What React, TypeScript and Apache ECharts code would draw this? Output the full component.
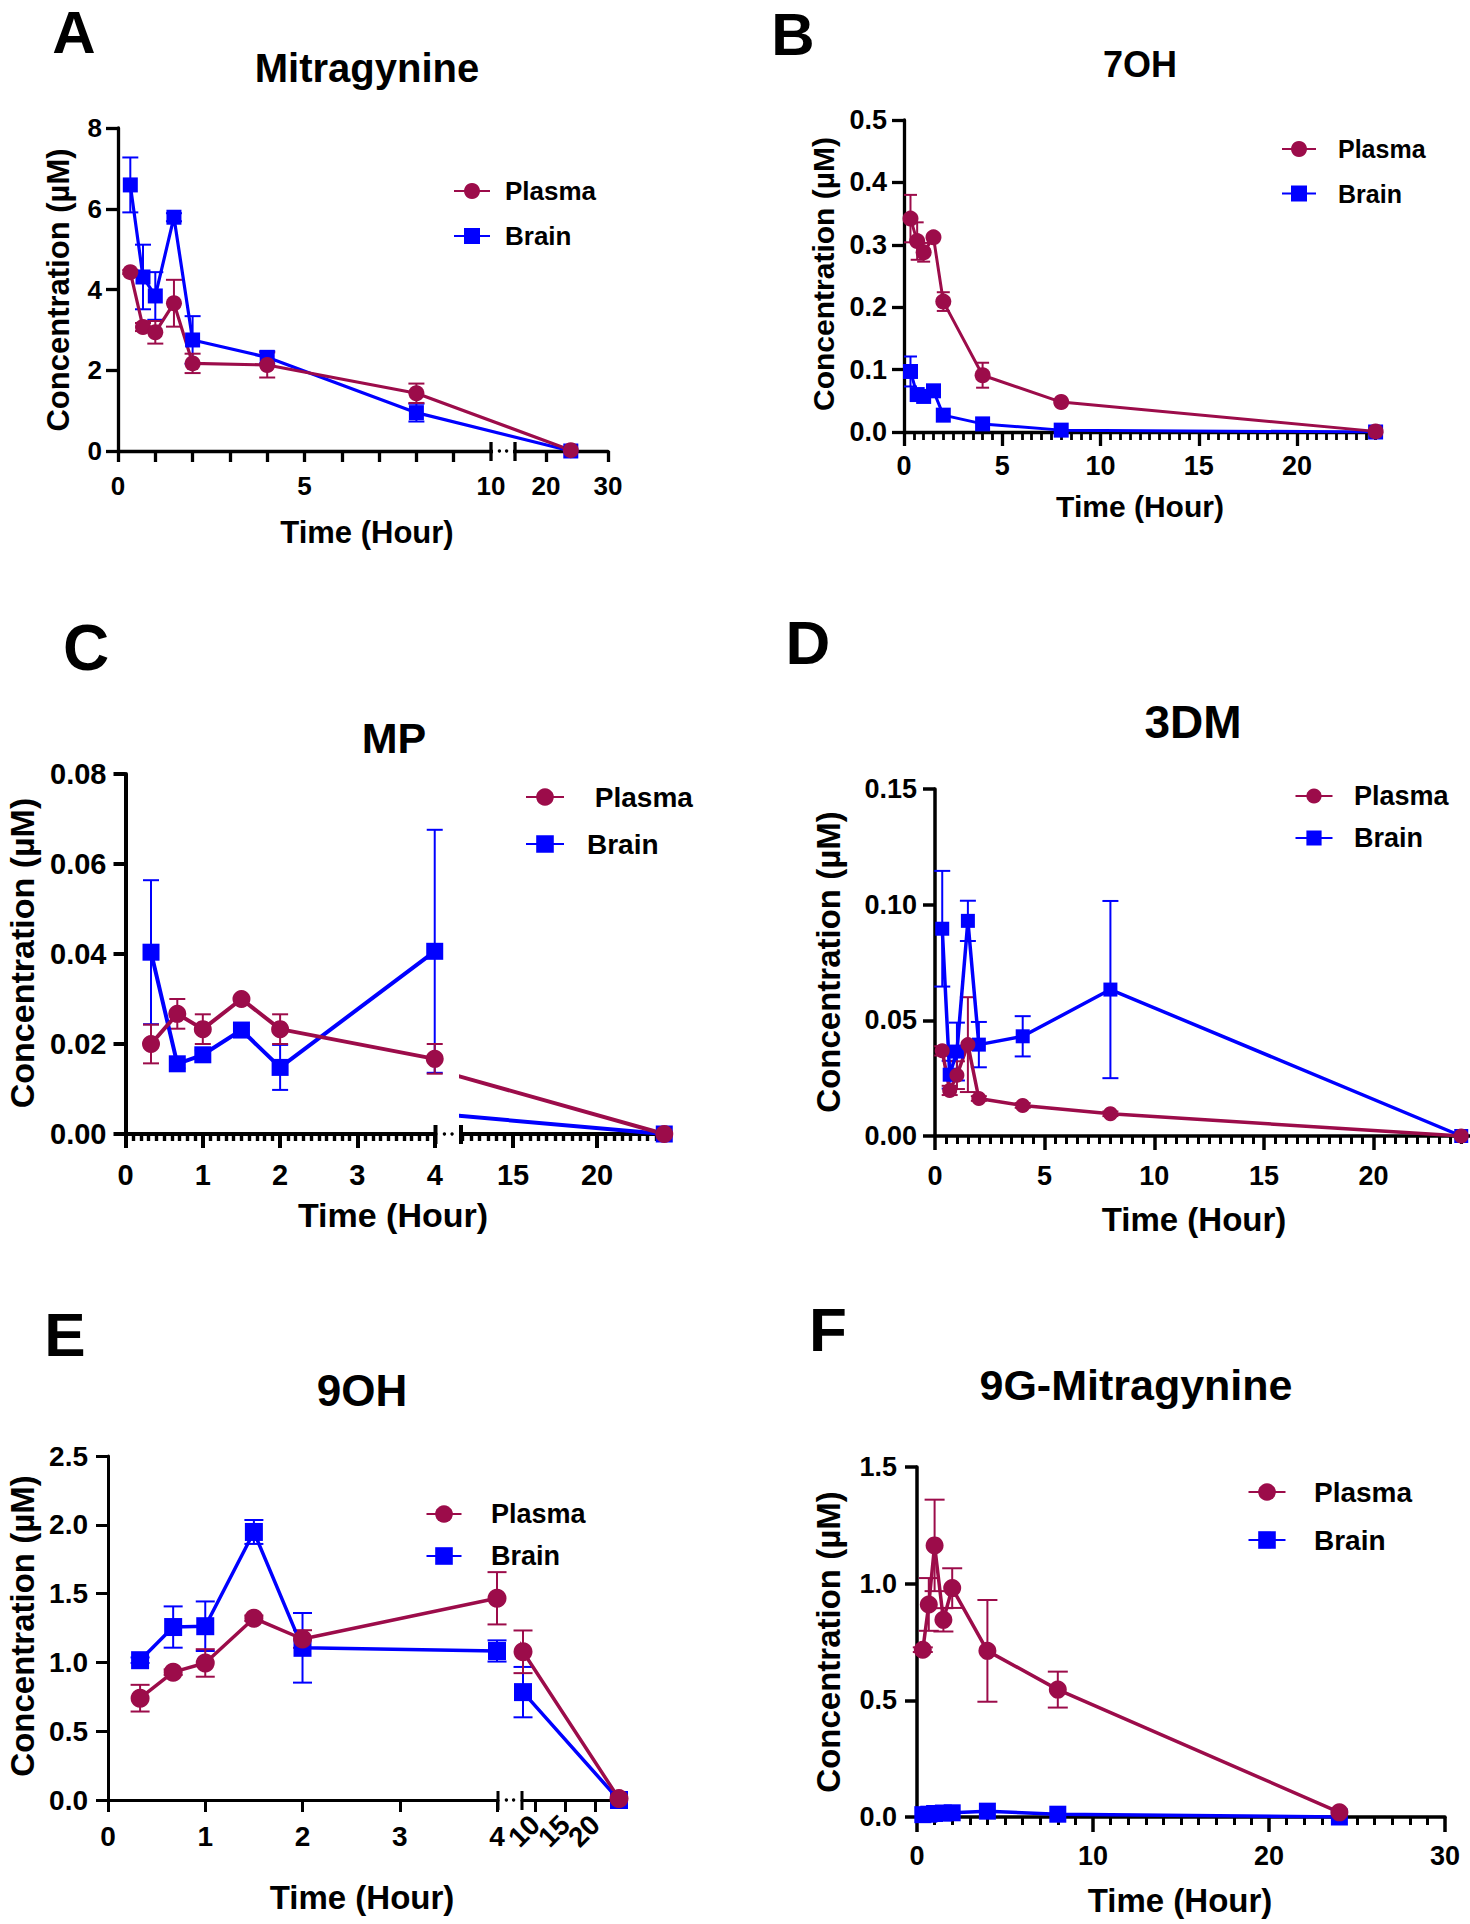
import React, { useEffect, useRef } from 'react';
import * as echarts from 'echarts';

const FONT = '"Liberation Sans", Arial, Helvetica, sans-serif';
const PLASMA_COLOR = '#9C0C4A';
const BRAIN_COLOR = '#0000FF';

// Sampling times (hour)
const TIME = [0.33, 0.67, 1, 1.5, 2, 4, 8, 24];

// A — Mitragynine (µM)
const A_PLASMA = [4.43, 3.07, 2.94, 3.66, 2.17, 2.13, 1.43, 0.02];
const A_PLASMA_SEM = [0.05, 0.1, 0.28, 0.58, 0.24, 0.31, 0.24, 0];
const A_BRAIN = [6.59, 4.31, 3.84, 5.79, 2.75, 2.32, 0.95, 0.0];
const A_BRAIN_SEM = [0.68, 0.8, 0.59, 0.1, 0.59, 0.15, 0.22, 0];

// B — 7OH (µM)
const B_PLASMA = [0.342, 0.306, 0.288, 0.312, 0.209, 0.091, 0.048, 0.001];
const B_PLASMA_SEM = [0.038, 0.03, 0.015, 0.005, 0.015, 0.02, 0.004, 0];
const B_BRAIN = [0.097, 0.06, 0.057, 0.066, 0.027, 0.013, 0.003, 0.0];
const B_BRAIN_SEM = [0.024, 0.008, 0.008, 0.005, 0.004, 0.003, 0, 0];

// C — MP (µM)
const C_PLASMA = [0.02, 0.0267, 0.0233, 0.03, 0.0233, 0.0167, 0.0168, 0.0];
const C_PLASMA_SEM = [0.0043, 0.0033, 0.0033, 0.0005, 0.0033, 0.0033, 0, 0];
const C_BRAIN = [0.0404, 0.0156, 0.0176, 0.0231, 0.0148, 0.0406, 0.0053, 0.0];
const C_BRAIN_SEM = [0.016, 0.001, 0.001, 0.001, 0.005, 0.027, 0, 0];

// D — 3DM (µM)
const D_PLASMA = [0.0368, 0.0197, 0.0263, 0.0395, 0.0162, 0.0132, 0.0096, 0.0];
const D_PLASMA_SEM = [0.002, 0.002, 0.006, 0.0205, 0.001, 0.001, 0.001, 0];
const D_BRAIN = [0.0896, 0.0265, 0.0365, 0.093, 0.0395, 0.0431, 0.0633, 0.0];
const D_BRAIN_SEM = [0.025, 0.006, 0.0125, 0.0087, 0.0098, 0.0087, 0.0383, 0];

// E — 9OH (µM)
const E_PLASMA = [0.74, 0.929, 0.996, 1.321, 1.17, 1.466, 1.077, 0.01];
const E_PLASMA_SEM = [0.097, 0.02, 0.1, 0.02, 0.064, 0.19, 0.155, 0];
const E_BRAIN = [1.016, 1.257, 1.263, 1.948, 1.106, 1.083, 0.784, 0.0];
const E_BRAIN_SEM = [0.02, 0.15, 0.18, 0.087, 0.253, 0.077, 0.183, 0];

// F — 9G-Mitragynine (µM)
const F_PLASMA = [0.717, 0.911, 1.164, 0.845, 0.981, 0.712, 0.546, 0.02];
const F_PLASMA_SEM = [0.01, 0.113, 0.196, 0.05, 0.085, 0.218, 0.077, 0];
const F_BRAIN = [0.01, 0.012, 0.015, 0.017, 0.018, 0.025, 0.012, 0.0];
const F_BRAIN_SEM = [0, 0, 0, 0, 0, 0, 0, 0];

// Tick labels
const A_X_LABELS = [0, 5, 10, 20, 30];
const B_X_LABELS = [0, 5, 10, 15, 20];
const C_X1_LABELS = [0, 1, 2, 3, 4];
const C_X2_LABELS = [15, 20];
const D_X_LABELS = [0, 5, 10, 15, 20];
const E_X1_LABELS = [0, 1, 2, 3, 4];
const E_X2_LABELS = [10, 15, 20];
const F_X_LABELS = [0, 10, 20, 30];

const A_Y_TICKS = [0, 2, 4, 6, 8];
const B_Y_TICKS = [0, 0.1, 0.2, 0.3, 0.4, 0.5];
const C_Y_TICKS = [0, 0.02, 0.04, 0.06, 0.08];
const D_Y_TICKS = [0, 0.05, 0.1, 0.15];
const E_Y_TICKS = [0, 0.5, 1, 1.5, 2, 2.5];
const F_Y_TICKS = [0, 0.5, 1, 1.5];

function stepList(a: number, b: number, step: number, skip: number[] = []) {
  const out: number[] = [];
  const n = Math.round((b - a) / step);
  for (let i = 0; i <= n; i++) {
    const v = +(a + i * step).toFixed(4);
    if (!skip.some((s) => Math.abs(s - v) < 1e-6)) out.push(v);
  }
  return out;
}

// Panel A uses a two-segment axis (0–10 | 15–30) drawn on one scale
const A_PX1 = 37.3;
const A_GAP = 24;
const A_PX2 = 6.2;
const aMap = (t: number) => (t <= 10 ? t : 10 + A_GAP / A_PX1 + ((t - 15) * A_PX2) / A_PX1);

const PANELS: any[] = [
  {
    letter: 'A', letterXY: [74, 32], letterSize: 60,
    title: 'Mitragynine', titleXY: [367, 68], titleSize: 40,
    xNameXY: [367, 532], yNameXY: [58, 290], nameSize: 31,
    top: 128, bottom: 451, yTicks: A_Y_TICKS, yDec: 0, tickFont: 26, yMargin: 16, xMargin: 22,
    plasma: A_PLASMA, plasmaSem: A_PLASMA_SEM, brain: A_BRAIN, brainSem: A_BRAIN_SEM,
    sym: 16, lw: 3.2, axisW: 3.3, cap: 8, errW: 2,
    legend: { cx: 471, cy: 191, gap: 45, textX: 504, font: 26, iw: 36, ih: 20 },
    segs: [
      { left: 118, width: 490, min: 0, max: aMap(30), map: aMap, labels: A_X_LABELS,
        majors: [...stepList(0, 9, 1), 20, 30], minors: [], majorLen: 11, minorLen: 0 },
    ],
    band: [aMap(10), aMap(15)],
  },
  {
    letter: 'B', letterXY: [793, 34], letterSize: 60,
    title: '7OH', titleXY: [1140, 64], titleSize: 36,
    xNameXY: [1140, 506], yNameXY: [823, 274], nameSize: 30,
    top: 120, bottom: 432, yTicks: B_Y_TICKS, yDec: 1, tickFont: 27, yMargin: 17, xMargin: 20,
    plasma: B_PLASMA, plasmaSem: B_PLASMA_SEM, brain: B_BRAIN, brainSem: B_BRAIN_SEM,
    sym: 16, lw: 3, axisW: 3.3, cap: 6.5, errW: 2,
    legend: { cx: 1298, cy: 149, gap: 44.5, textX: 1337, font: 25, iw: 34, ih: 20 },
    segs: [
      { left: 904, width: 477.5, min: 0, max: 24.3, labels: B_X_LABELS, majors: B_X_LABELS,
        minors: stepList(0, 24, 0.5, B_X_LABELS), majorLen: 14, minorLen: 8 },
    ],
  },
  {
    letter: 'C', letterXY: [86, 648], letterSize: 64,
    title: 'MP', titleXY: [394, 738], titleSize: 43,
    xNameXY: [393, 1215], yNameXY: [22, 953], nameSize: 34,
    top: 774, bottom: 1134, yTicks: C_Y_TICKS, yDec: 2, tickFont: 29, yMargin: 19, xMargin: 26,
    plasma: C_PLASMA, plasmaSem: C_PLASMA_SEM, brain: C_BRAIN, brainSem: C_BRAIN_SEM,
    sym: 18, lw: 4, axisW: 4, cap: 8, errW: 2,
    legend: { cx: 544, cy: 797, gap: 47, textX: 586, font: 28, iw: 38, ih: 22, plasmaLabel: ' Plasma' },
    segs: [
      { left: 125.5, width: 310, min: 0, max: 4.01, labels: C_X1_LABELS, majors: C_X1_LABELS,
        minors: stepList(0, 4, 0.1, C_X1_LABELS), majorLen: 14, minorLen: 7 },
      { left: 461, width: 210, min: 11.9, max: 24.4, labels: C_X2_LABELS, majors: C_X2_LABELS,
        minors: stepList(12, 24, 0.5, C_X2_LABELS), majorLen: 14, minorLen: 7 },
    ],
  },
  {
    letter: 'D', letterXY: [808, 642], letterSize: 62,
    title: '3DM', titleXY: [1193, 722], titleSize: 46,
    xNameXY: [1194, 1219], yNameXY: [828, 962], nameSize: 33,
    top: 789, bottom: 1136, yTicks: D_Y_TICKS, yDec: 2, tickFont: 27, yMargin: 18, xMargin: 26,
    plasma: D_PLASMA, plasmaSem: D_PLASMA_SEM, brain: D_BRAIN, brainSem: D_BRAIN_SEM,
    sym: 15, lw: 3.5, axisW: 3.5, cap: 8, errW: 2,
    legend: { cx: 1313, cy: 796, gap: 42, textX: 1353, font: 27, iw: 37, ih: 19 },
    segs: [
      { left: 935, width: 541.7, min: 0, max: 24.4, labels: D_X_LABELS, majors: D_X_LABELS,
        minors: stepList(0, 24, 0.5, D_X_LABELS), majorLen: 14, minorLen: 8 },
    ],
  },
  {
    letter: 'E', letterXY: [65, 1334], letterSize: 62,
    title: '9OH', titleXY: [362, 1390], titleSize: 44,
    xNameXY: [362, 1897], yNameXY: [22, 1626], nameSize: 33,
    top: 1456, bottom: 1800, yTicks: E_Y_TICKS, yDec: 1, tickFont: 28, yMargin: 20, xMargin: 22,
    plasma: E_PLASMA, plasmaSem: E_PLASMA_SEM, brain: E_BRAIN, brainSem: E_BRAIN_SEM,
    sym: 19, lw: 3.5, axisW: 3, cap: 9.5, errW: 2,
    legend: { cx: 443, cy: 1514, gap: 42, textX: 490, font: 27, iw: 35, ih: 22 },
    segs: [
      { left: 108, width: 390, min: 0, max: 4.01, labels: E_X1_LABELS, majors: E_X1_LABELS,
        minors: [], majorLen: 12, minorLen: 0 },
      { left: 522, width: 101.8, min: 7.83, max: 24.8, labels: E_X2_LABELS, majors: E_X2_LABELS,
        minors: [], majorLen: 12, minorLen: 0, rotate: 45 },
    ],
  },
  {
    letter: 'F', letterXY: [828, 1329], letterSize: 62,
    title: '9G-Mitragynine', titleXY: [1136, 1385], titleSize: 43,
    xNameXY: [1180, 1900], yNameXY: [828, 1642], nameSize: 33,
    top: 1467, bottom: 1817, yTicks: F_Y_TICKS, yDec: 1, tickFont: 27, yMargin: 20, xMargin: 25,
    plasma: F_PLASMA, plasmaSem: F_PLASMA_SEM, brain: F_BRAIN, brainSem: F_BRAIN_SEM,
    sym: 18, lw: 3.5, axisW: 3.5, cap: 10, errW: 2,
    legend: { cx: 1266, cy: 1492, gap: 48, textX: 1313, font: 28, iw: 37, ih: 22 },
    segs: [
      { left: 917, width: 528, min: 0, max: 30, labels: F_X_LABELS, majors: F_X_LABELS,
        minors: stepList(0, 30, 1, F_X_LABELS), majorLen: 15, minorLen: 8 },
    ],
  },
];

function errSeries(xi: number, yi: number, data: number[][], color: string, cap: number, w: number) {
  return {
    type: 'custom',
    xAxisIndex: xi,
    yAxisIndex: yi,
    silent: true,
    data,
    renderItem: (_params: any, api: any) => {
      const x = api.value(0);
      const y = api.value(1);
      const e = api.value(2);
      if (!e) return null;
      const hi = api.coord([x, y + e]);
      const lo = api.coord([x, Math.max(y - e, 0)]);
      const st = { stroke: color, lineWidth: w };
      return {
        type: 'group',
        children: [
          { type: 'line', shape: { x1: hi[0], y1: hi[1], x2: lo[0], y2: lo[1] }, style: st },
          { type: 'line', shape: { x1: hi[0] - cap, y1: hi[1], x2: hi[0] + cap, y2: hi[1] }, style: st },
          { type: 'line', shape: { x1: lo[0] - cap, y1: lo[1], x2: lo[0] + cap, y2: lo[1] }, style: st },
        ],
      };
    },
  };
}

function lineSeries(name: string, xi: number, yi: number, data: number[][], color: string, symbol: string, size: number, lw: number) {
  return {
    type: 'line',
    name,
    xAxisIndex: xi,
    yAxisIndex: yi,
    data,
    symbol,
    symbolSize: symbol === 'rect' ? size - 1 : size,
    showSymbol: true,
    itemStyle: { color, borderWidth: 0 },
    lineStyle: { color, width: lw },
    clip: true,
    silent: true,
    emphasis: { disabled: true },
  };
}

function text(t: string, x: number, y: number, size: number, rotation = 0) {
  return {
    type: 'text',
    x,
    y,
    rotation,
    z: 100,
    silent: true,
    style: { text: t, fill: '#000', font: `bold ${size}px ${FONT}`, align: 'center', verticalAlign: 'middle' },
  };
}

function labelStyle(p: any) {
  return {
    color: '#000',
    fontFamily: FONT,
    fontWeight: 'bold',
    fontSize: p.tickFont,
    hideOverlap: false,
    showMinLabel: true,
    showMaxLabel: true,
  };
}

function buildOption() {
  const grid: any[] = [];
  const xAxis: any[] = [];
  const yAxis: any[] = [];
  const series: any[] = [];
  const elements: any[] = [];
  const legend: any[] = [];

  PANELS.forEach((p) => {
    const yMax = p.yTicks[p.yTicks.length - 1];
    const yStep = p.yTicks[1] - p.yTicks[0];
    const segPix: number[][] = [];

    p.segs.forEach((s: any, si: number) => {
      const gi = grid.length;
      grid.push({ left: s.left, top: p.top, width: s.width, height: p.bottom - p.top });
      segPix.push([s.left, s.left + s.width]);
      const map = s.map || ((t: number) => t);
      const mappedLabels = s.labels.map(map);
      const fmt = (v: number) => {
        const i = mappedLabels.findIndex((m: number) => Math.abs(m - v) < 1e-6);
        return i >= 0 ? String(s.labels[i]) : '';
      };
      const xi = xAxis.length;
      xAxis.push({
        type: 'value',
        gridIndex: gi,
        min: s.min,
        max: s.max,
        position: 'bottom',
        axisLine: { show: true, onZero: false, lineStyle: { color: '#000', width: p.axisW } },
        axisTick: { show: true, customValues: s.majors.map(map), length: s.majorLen, lineStyle: { color: '#000', width: p.axisW } },
        axisLabel: s.rotate
          ? { show: false }
          : { show: true, customValues: mappedLabels, formatter: fmt, margin: p.xMargin, ...labelStyle(p) },
        splitLine: { show: false },
      });
      if (s.rotate) {
        // one label per axis so the rotated, tightly spaced labels are all kept
        mappedLabels.forEach((mv: number) => {
          xAxis.push({
            type: 'value',
            gridIndex: gi,
            min: s.min,
            max: s.max,
            position: 'bottom',
            axisLine: { show: false, onZero: false },
            axisTick: { show: false },
            axisLabel: { show: true, customValues: [mv], formatter: fmt, margin: 20, rotate: s.rotate, ...labelStyle(p) },
            splitLine: { show: false },
          });
        });
      }
      if (s.minors.length) {
        xAxis.push({
          type: 'value',
          gridIndex: gi,
          min: s.min,
          max: s.max,
          position: 'bottom',
          axisLine: { show: false, onZero: false },
          axisTick: { show: true, customValues: s.minors.map(map), length: s.minorLen, lineStyle: { color: '#000', width: p.axisW * 0.85 } },
          axisLabel: { show: false },
          splitLine: { show: false },
        });
      }
      const yi = yAxis.length;
      yAxis.push({
        type: 'value',
        gridIndex: gi,
        min: 0,
        max: yMax,
        interval: yStep,
        show: si === 0,
        axisLine: { show: true, lineStyle: { color: '#000', width: p.axisW } },
        axisTick: { show: true, length: 12, lineStyle: { color: '#000', width: p.axisW } },
        axisLabel: {
          formatter: (v: number) => v.toFixed(p.yDec),
          margin: p.yMargin,
          ...labelStyle(p),
        },
        splitLine: { show: false },
      });

      const inRange = (x: number) => x >= s.min - 1e-9 && x <= s.max + 1e-9;
      const lineData = (vals: number[]) => TIME.map((t, i) => [map(t), vals[i]]);
      const errData = (vals: number[], sem: number[]) =>
        TIME.map((t, i) => [map(t), vals[i], sem[i]]).filter((d) => inRange(d[0]));

      series.push(errSeries(xi, yi, errData(p.brain, p.brainSem), BRAIN_COLOR, p.cap, p.errW));
      series.push(lineSeries('Brain', xi, yi, lineData(p.brain), BRAIN_COLOR, 'rect', p.sym, p.lw));
      series.push(errSeries(xi, yi, errData(p.plasma, p.plasmaSem), PLASMA_COLOR, p.cap, p.errW));
      series.push(lineSeries('Plasma', xi, yi, lineData(p.plasma), PLASMA_COLOR, 'circle', p.sym, p.lw));
    });

    // texts
    elements.push(text(p.letter, p.letterXY[0], p.letterXY[1], p.letterSize));
    elements.push(text(p.title, p.titleXY[0], p.titleXY[1], p.titleSize));
    elements.push(text('Time (Hour)', p.xNameXY[0], p.xNameXY[1], p.nameSize));
    elements.push(text('Concentration (µM)', p.yNameXY[0], p.yNameXY[1], p.nameSize, Math.PI / 2));

    // axis break marks
    let breakXs: number[] | null = null;
    if (p.band) {
      const s = p.segs[0];
      const toPx = (u: number) => s.left + ((u - s.min) / (s.max - s.min)) * s.width;
      breakXs = [toPx(p.band[0]), toPx(p.band[1])];
      elements.push({
        type: 'rect',
        z: 3,
        silent: true,
        shape: { x: breakXs[0] + 2, y: p.top - 10, width: breakXs[1] - breakXs[0] - 4, height: p.bottom - p.top + 10 + p.axisW },
        style: { fill: '#fff' },
      });
    } else if (segPix.length === 2) {
      breakXs = [segPix[0][1], segPix[1][0]];
    }
    if (breakXs) {
      breakXs.forEach((bx) => {
        elements.push({
          type: 'line',
          z: 60,
          silent: true,
          shape: { x1: bx, y1: p.bottom - 9, x2: bx, y2: p.bottom + 10 },
          style: { stroke: '#000', lineWidth: p.axisW },
        });
      });
      const w = breakXs[1] - breakXs[0];
      [0.35, 0.65].forEach((f) => {
        elements.push({
          type: 'circle',
          z: 60,
          silent: true,
          shape: { cx: breakXs![0] + w * f, cy: p.bottom, r: 1.7 },
          style: { fill: '#000' },
        });
      });
    }

    // legend
    const L = p.legend;
    const rowH = Math.max(L.ih, L.font);
    const lg: any = {
      orient: 'vertical',
      left: L.cx - L.iw / 2,
      top: L.cy - rowH / 2,
      padding: 0,
      z: 20,
      itemWidth: L.iw,
      itemHeight: L.ih,
      itemGap: L.gap - rowH,
      data: ['Plasma', 'Brain'],
      selectedMode: false,
      textStyle: {
        fontFamily: FONT,
        fontWeight: 'bold',
        fontSize: L.font,
        color: '#000',
        padding: [0, 0, 0, Math.max(0, L.textX - (L.cx + L.iw / 2) - 5)],
      },
    };
    if (L.plasmaLabel) {
      lg.formatter = (n: string) => (n === 'Plasma' ? L.plasmaLabel : n);
    }
    legend.push(lg);
  });

  return {
    animation: false,
    backgroundColor: '#ffffff',
    grid,
    xAxis,
    yAxis,
    series,
    legend,
    graphic: { elements },
  };
}

export default function App() {
  const ref = useRef<HTMLDivElement>(null);
  useEffect(() => {
    if (!ref.current) return;
    const chart = echarts.init(ref.current, null, { renderer: 'svg' });
    chart.setOption(buildOption());
    return () => chart.dispose();
  }, []);
  return (
    <div
      ref={ref}
      style={{ position: 'absolute', left: 0, top: 0, width: 1470, height: 1924, background: '#fff' }}
    />
  );
}
